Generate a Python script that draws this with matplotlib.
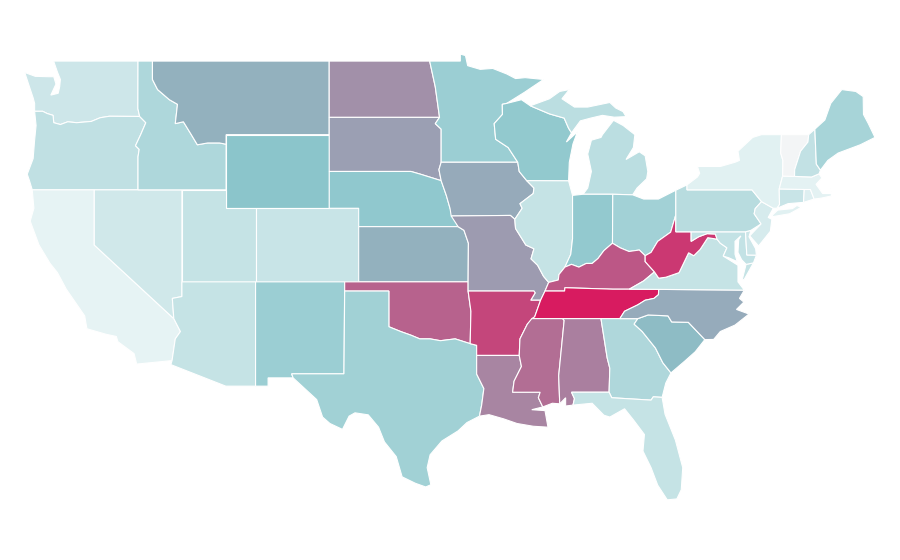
import matplotlib
matplotlib.use('Agg')
import matplotlib.pyplot as plt
from matplotlib.colors import LinearSegmentedColormap, Normalize

# choropleth value per state, 0-1 scale
state_values = {
    'WA': .129, 'OR': .182, 'CA': .028, 'NV': .121, 'ID': .254, 'MT': .47, 'WY': .396,
    'UT': .161, 'CO': .149, 'AZ': .161, 'NM': .331, 'ND': .587, 'SD': .534, 'NE': .376,
    'KS': .47, 'OK': .749, 'TX': .307, 'MN': .331, 'IA': .495, 'MO': .548, 'AR': .845,
    'LA': .626, 'WI': .368, 'IL': .161, 'MI': .202, 'IN': .364, 'OH': .303, 'KY': .788,
    'TN': 1.0, 'MS': .707, 'AL': .647, 'GA': .25, 'FL': .161, 'SC': .432, 'NC': .492,
    'VA': .161, 'WV': .898, 'MD': .17, 'DE': .13, 'PA': .218, 'NJ': .097, 'NY': .048,
    'CT': .149, 'RI': .06, 'MA': .036, 'VT': 0, 'NH': .174, 'ME': .283,
}

# state outlines, lon/lat
outlines = {
    'WA': [[(-122.76,49),(-117.03,49),(-117.04,46.42),(-116.92,45.99),(-118.98,46.0),(-119.6,45.92),(-120.2,45.72),(-121.2,45.65),(-121.8,45.7),(-122.3,45.55),(-122.75,45.65),(-122.8,46.05),(-123.2,46.15),(-123.5,46.27),(-124.05,46.27),(-124.05,46.7),(-124.15,47.0),(-124.4,47.6),(-124.72,48.38),(-124.0,48.17),(-123.1,48.15),(-122.75,48.15),(-122.6,47.75),(-122.95,47.15),(-122.45,47.25),(-122.35,47.6),(-122.3,48.0),(-122.5,48.4)]],
    'OR': [[(-124.05,46.27),(-123.5,46.27),(-123.2,46.15),(-122.8,46.05),(-122.75,45.65),(-122.3,45.55),(-121.8,45.7),(-121.2,45.65),(-120.2,45.72),(-119.6,45.92),(-118.98,46.0),(-116.92,45.99),(-116.5,45.65),(-116.85,45.0),(-117.2,44.4),(-116.95,44.2),(-117.03,43.8),(-117.03,42),(-124.21,42),(-124.4,42.5),(-124.55,42.85),(-124.15,43.7),(-124.05,44.7),(-123.95,45.5)]],
    'CA': [[(-124.21,42),(-120,42),(-120,39),(-114.6,35),(-114.15,34.3),(-114.5,33.9),(-114.72,32.72),(-117.12,32.53),(-117.3,33.1),(-118.4,33.75),(-118.5,34.03),(-119.2,34.15),(-120.5,34.45),(-120.65,35.15),(-121.9,36.6),(-122.5,37.5),(-123.0,38.0),(-123.75,39.0),(-124.35,40.3),(-124.1,41.0)]],
    'NV': [[(-120,42),(-114.05,42),(-114.05,36.2),(-114.7,36.1),(-114.6,35),(-120,39)]],
    'ID': [[(-117.03,49),(-116.05,49),(-116.05,48),(-115.7,47.45),(-114.9,46.9),(-114.35,46.65),(-114.5,45.6),(-113.95,45.7),(-113.45,45.05),(-113.0,44.45),(-112.3,44.55),(-111.5,44.55),(-111.05,44.48),(-111.05,42),(-117.03,42),(-117.03,43.8),(-116.95,44.2),(-117.2,44.4),(-116.85,45.0),(-116.5,45.65),(-116.92,45.99),(-117.04,46.42)]],
    'MT': [[(-116.05,49),(-104.05,49),(-104.05,45),(-111.05,45),(-111.05,44.48),(-111.5,44.55),(-112.3,44.55),(-113.0,44.45),(-113.45,45.05),(-113.95,45.7),(-114.5,45.6),(-114.35,46.65),(-114.9,46.9),(-115.7,47.45),(-116.05,48)]],
    'WY': [[(-111.05,45),(-104.05,45),(-104.05,41),(-111.05,41)]],
    'UT': [[(-111.05,42),(-111.05,41),(-109.05,41),(-109.05,37),(-114.05,37),(-114.05,42)]],
    'CO': [[(-109.05,41),(-102.05,41),(-102.05,37),(-109.05,37)]],
    'AZ': [[(-114.05,37),(-109.05,37),(-109.05,31.33),(-111.07,31.33),(-114.8,32.5),(-114.72,32.72),(-114.5,33.9),(-114.15,34.3),(-114.6,35),(-114.7,36.1),(-114.05,36.2)]],
    'NM': [[(-109.05,37),(-103.0,37),(-103.05,32),(-106.6,32),(-106.5,31.78),(-108.2,31.78),(-108.2,31.33),(-109.05,31.33)]],
    'ND': [[(-104.05,49),(-97.23,49),(-96.85,47.6),(-96.56,45.94),(-104.05,45.94)]],
    'SD': [[(-104.05,45.94),(-96.56,45.94),(-96.85,45.6),(-96.45,45.3),(-96.45,43.5),(-96.6,43.1),(-96.45,42.5),(-97.85,42.85),(-98.5,43.0),(-104.05,43)]],
    'NE': [[(-104.05,43),(-98.5,43),(-97.85,42.85),(-96.45,42.5),(-96.1,41.7),(-95.85,41.0),(-95.3,40),(-102.05,40),(-102.05,41),(-104.05,41)]],
    'KS': [[(-102.05,40),(-95.3,40),(-94.9,39.8),(-94.6,39.1),(-94.62,37),(-102.05,37)]],
    'OK': [[(-103,37),(-94.62,37),(-94.62,36.5),(-94.43,35.4),(-94.48,33.64),(-95.5,33.9),(-96.5,33.8),(-97.2,33.9),(-97.9,33.9),(-98.5,34.1),(-99.2,34.3),(-100,34.56),(-100,36.5),(-103,36.5)]],
    'TX': [[(-103.0,36.5),(-100,36.5),(-100,34.56),(-99.2,34.3),(-98.5,34.1),(-97.9,33.9),(-97.2,33.9),(-96.5,33.8),(-95.5,33.9),(-94.48,33.64),(-94.04,33.55),(-94.04,31.99),(-93.55,31.2),(-93.7,30.3),(-93.85,29.7),(-94.7,29.35),(-95.3,28.9),(-96.4,28.35),(-97.2,27.6),(-97.4,26.9),(-97.15,25.97),(-97.5,25.85),(-98.2,26.05),(-99.1,26.4),(-99.5,27.5),(-100.3,28.3),(-100.7,29.1),(-101.4,29.77),(-102.3,29.88),(-102.7,29.7),(-103.15,28.98),(-104.0,29.3),(-104.5,29.65),(-104.9,30.6),(-106.5,31.78),(-106.6,32),(-103.05,32)]],
    'MN': [[(-97.23,49),(-95.15,49),(-95.15,49.38),(-94.8,49.3),(-94.65,48.75),(-93.8,48.55),(-92.95,48.6),(-92.0,48.3),(-91.4,48.05),(-90.75,48.1),(-89.5,48.0),(-90.8,47.3),(-92.0,46.7),(-92.3,46.65),(-92.29,46.1),(-92.85,45.6),(-92.75,44.75),(-91.9,44.3),(-91.25,43.5),(-96.45,43.5),(-96.45,45.3),(-96.85,45.6),(-96.56,45.94),(-96.85,47.6)]],
    'IA': [[(-96.45,43.5),(-91.25,43.5),(-91.15,43.0),(-90.64,42.5),(-90.15,42.1),(-90.2,41.8),(-91.1,41.25),(-90.95,41.0),(-91.45,40.4),(-91.75,40.61),(-95.77,40.58),(-95.85,41.0),(-96.1,41.7),(-96.45,42.5),(-96.6,43.1)]],
    'MO': [[(-95.77,40.58),(-91.75,40.61),(-91.45,40.4),(-91.4,39.9),(-90.7,39.0),(-90.15,38.8),(-90.35,38.25),(-89.9,37.9),(-89.5,37.3),(-89.15,36.97),(-89.4,36.5),(-89.7,36.0),(-90.37,36.0),(-90.07,36.4),(-90.15,36.5),(-94.62,36.5),(-94.62,37),(-94.6,39.1),(-94.9,39.8),(-95.3,40)]],
    'AR': [[(-94.62,36.5),(-90.15,36.5),(-90.07,36.4),(-90.37,36),(-89.7,36),(-90.1,35.1),(-90.6,34.7),(-91.1,33.9),(-91.15,33.0),(-94.04,33),(-94.04,33.55),(-94.48,33.64),(-94.43,35.4)]],
    'LA': [[(-94.04,33),(-91.15,33),(-91.0,32.4),(-91.5,31.6),(-91.6,31.0),(-89.73,31),(-89.85,30.7),(-89.55,30.2),(-90.3,30.05),(-89.4,30.0),(-89.2,29.1),(-90.2,29.15),(-91.3,29.3),(-92.2,29.55),(-93.2,29.78),(-93.85,29.7),(-93.7,30.3),(-93.55,31.2),(-94.04,31.99)]],
    'WI': [[(-92.0,46.7),(-91.0,46.9),(-90.4,46.57),(-89.1,46.13),(-88.1,45.9),(-87.8,45.35),(-87.6,45.1),(-87.95,44.6),(-87.2,45.15),(-87.5,44.5),(-87.75,43.5),(-87.8,42.49),(-90.64,42.5),(-91.15,43.0),(-91.25,43.5),(-91.9,44.3),(-92.75,44.75),(-92.85,45.6),(-92.29,46.1),(-92.3,46.65)]],
    'IL': [[(-90.64,42.5),(-87.8,42.49),(-87.53,41.7),(-87.53,39.35),(-87.65,38.5),(-88.05,37.8),(-88.45,37.4),(-88.5,37.1),(-89.15,36.97),(-89.5,37.3),(-89.9,37.9),(-90.35,38.25),(-90.15,38.8),(-90.7,39.0),(-91.4,39.9),(-91.45,40.4),(-90.95,41.0),(-91.1,41.25),(-90.2,41.8),(-90.15,42.1)]],
    'MI': [[(-90.4,46.57),(-89.1,46.95),(-88.4,47.35),(-87.75,47.45),(-88.25,46.95),(-87.4,46.5),(-86.5,46.5),(-85.0,46.75),(-84.6,46.45),(-84.1,46.25),(-83.9,45.98),(-84.7,45.95),(-85.5,46.05),(-86.3,45.9),(-87.0,45.75),(-87.6,45.1),(-87.8,45.35),(-88.1,45.9),(-89.1,46.13)],
           [(-84.75,45.78),(-85.5,45.0),(-85.6,44.85),(-86.25,44.7),(-86.5,43.95),(-86.25,43.0),(-86.5,42.1),(-86.82,41.76),(-84.8,41.76),(-83.45,41.73),(-83.15,42.1),(-82.5,42.6),(-82.42,43.0),(-82.6,43.85),(-83.0,44.07),(-83.9,43.65),(-83.4,44.3),(-83.3,45.0),(-84.1,45.5)]],
    'IN': [[(-87.53,41.7),(-86.82,41.76),(-84.8,41.76),(-84.82,39.1),(-85.4,38.7),(-85.8,38.27),(-86.2,38.0),(-86.6,38.0),(-87.1,37.8),(-87.6,37.95),(-88.05,37.8),(-87.65,38.5),(-87.53,39.35)]],
    'OH': [[(-84.8,41.76),(-83.45,41.73),(-82.7,41.5),(-81.7,41.5),(-80.52,41.98),(-80.52,40.64),(-80.87,39.7),(-81.75,39.2),(-82.2,38.6),(-82.6,38.42),(-83.0,38.73),(-83.7,38.65),(-84.3,38.85),(-84.82,39.1)]],
    'KY': [[(-89.4,36.5),(-89.15,36.97),(-88.5,37.1),(-88.45,37.4),(-88.05,37.8),(-87.6,37.95),(-87.1,37.8),(-86.6,38.0),(-86.2,38.0),(-85.8,38.27),(-85.4,38.7),(-84.82,39.1),(-84.3,38.85),(-83.7,38.65),(-83.0,38.73),(-82.6,38.42),(-82.6,38.1),(-81.97,37.54),(-82.7,37.05),(-83.68,36.6),(-84.8,36.6),(-88.05,36.68),(-88.07,36.5)]],
    'TN': [[(-89.7,36),(-89.4,36.5),(-88.07,36.5),(-88.05,36.68),(-84.8,36.6),(-83.68,36.6),(-81.68,36.59),(-81.7,36.3),(-82.0,36.1),(-82.6,36.0),(-83.1,35.75),(-84.0,35.4),(-84.32,35),(-90.3,35),(-90.1,35.1)]],
    'MS': [[(-90.3,35),(-88.2,35),(-88.1,34.9),(-88.47,31.9),(-88.4,30.37),(-88.9,30.4),(-89.55,30.2),(-89.85,30.7),(-89.73,31),(-91.6,31),(-91.5,31.6),(-91.0,32.4),(-91.15,33),(-91.1,33.9),(-90.6,34.7)]],
    'AL': [[(-88.2,35),(-85.6,35),(-85.18,32.87),(-85.0,32.3),(-85.05,31.0),(-87.6,31),(-87.4,30.65),(-87.5,30.3),(-88.0,30.25),(-88.0,30.7),(-88.4,30.37),(-88.47,31.9),(-88.1,34.9)]],
    'GA': [[(-85.6,35),(-83.1,35),(-83.35,34.7),(-82.8,34.3),(-81.9,33.4),(-81.4,32.6),(-80.85,32.05),(-81.2,31.5),(-81.45,30.72),(-82.05,30.75),(-82.2,30.57),(-84.87,30.7),(-85.05,31.0),(-85.0,32.3),(-85.18,32.87)]],
    'FL': [[(-87.6,31),(-85.05,31),(-84.87,30.7),(-82.2,30.57),(-82.05,30.75),(-81.45,30.72),(-81.25,29.8),(-80.55,28.4),(-80.05,26.9),(-80.15,25.7),(-80.45,25.2),(-81.1,25.15),(-81.75,25.95),(-82.2,26.9),(-82.75,27.8),(-82.65,28.7),(-83.4,29.5),(-84.0,30.1),(-85.0,29.65),(-85.4,29.75),(-86.2,30.4),(-87.5,30.3),(-87.4,30.65)]],
    'SC': [[(-83.35,34.7),(-83.1,35),(-82.4,35.2),(-81.05,35.15),(-80.8,34.82),(-79.67,34.8),(-78.55,33.86),(-79.2,33.2),(-79.9,32.7),(-80.85,32.05),(-81.4,32.6),(-81.9,33.4),(-82.8,34.3)]],
    'NC': [[(-81.68,36.59),(-75.87,36.55),(-76.2,36.1),(-75.9,35.9),(-76.4,35.5),(-75.55,35.25),(-76.5,34.65),(-77.5,34.3),(-77.95,33.87),(-78.55,33.86),(-79.67,34.8),(-80.8,34.82),(-81.05,35.15),(-82.4,35.2),(-83.1,35),(-84.32,35),(-84.0,35.4),(-83.1,35.75),(-82.6,36.0),(-82.0,36.1),(-81.7,36.3)]],
    'VA': [[(-83.68,36.6),(-82.7,37.05),(-81.97,37.54),(-81.68,37.2),(-81.2,37.25),(-80.3,37.5),(-79.65,38.58),(-79.3,38.42),(-78.87,38.76),(-78.35,39.4),(-77.72,39.32),(-77.5,39.1),(-77.05,38.85),(-77.3,38.4),(-76.3,37.9),(-76.3,37.0),(-75.87,36.55),(-81.68,36.59)],
           [(-76.0,37.15),(-75.75,37.95),(-75.25,38.03),(-75.9,37.1)]],
    'WV': [[(-82.6,38.42),(-82.2,38.6),(-81.75,39.2),(-80.87,39.7),(-80.52,40.64),(-80.52,39.72),(-79.48,39.72),(-79.48,39.2),(-78.97,39.45),(-78.4,39.62),(-77.83,39.6),(-77.72,39.32),(-78.35,39.4),(-78.87,38.76),(-79.3,38.42),(-79.65,38.58),(-80.3,37.5),(-81.2,37.25),(-81.68,37.2),(-81.97,37.54),(-82.6,38.1)]],
    'MD': [[(-79.48,39.72),(-75.79,39.72),(-75.7,38.46),(-75.05,38.45),(-75.25,38.03),(-75.75,37.95),(-76.05,38.2),(-76.3,38.6),(-76.25,39.3),(-76.1,39.5),(-76.5,39.2),(-76.5,38.5),(-76.35,38.1),(-76.9,38.3),(-77.3,38.4),(-77.05,38.85),(-77.5,39.1),(-77.72,39.32),(-77.83,39.6),(-78.4,39.62),(-78.97,39.45),(-79.48,39.2)]],
    'DE': [[(-75.79,39.72),(-75.42,39.8),(-75.55,39.45),(-75.1,38.8),(-75.05,38.45),(-75.7,38.46)]],
    'PA': [[(-80.52,41.98),(-79.76,42.27),(-79.76,42),(-75.35,42),(-74.7,41.36),(-75.13,40.98),(-75.2,40.7),(-74.73,40.15),(-75.42,39.8),(-75.79,39.72),(-80.52,39.72)]],
    'NJ': [[(-74.7,41.36),(-73.9,41.0),(-74.25,40.5),(-74.0,40.4),(-74.1,39.75),(-74.9,38.95),(-75.5,39.5),(-74.73,40.15),(-75.2,40.7),(-75.13,40.98)]],
    'NY': [[(-79.76,42.27),(-79.05,42.7),(-78.9,42.9),(-79.05,43.27),(-77.5,43.27),(-76.5,43.5),(-76.2,43.6),(-76.3,44.1),(-75.3,44.85),(-74.7,45),(-73.35,45),(-73.4,44.0),(-73.25,43.6),(-73.27,42.75),(-73.5,42.05),(-73.48,41.2),(-73.65,41.0),(-73.9,41.0),(-74.7,41.36),(-75.35,42),(-79.76,42)],
           [(-74.0,40.6),(-73.6,40.9),(-72.6,40.98),(-72.3,41.15),(-72.0,41.05),(-72.8,40.7),(-73.9,40.55)]],
    'CT': [[(-73.5,42.05),(-71.8,42.02),(-71.85,41.32),(-72.9,41.25),(-73.65,41.0),(-73.48,41.2)]],
    'RI': [[(-71.8,42.02),(-71.38,42.02),(-71.13,41.5),(-71.85,41.32)]],
    'MA': [[(-73.5,42.05),(-73.27,42.75),(-71.3,42.7),(-70.8,42.87),(-70.6,42.65),(-71.0,42.3),(-70.55,41.8),(-70.0,41.8),(-70.0,42.05),(-69.95,41.67),(-70.65,41.55),(-71.13,41.5),(-71.38,42.02),(-71.8,42.02)]],
    'VT': [[(-73.35,45),(-71.5,45),(-71.55,44.6),(-72.05,44.1),(-72.45,43.1),(-72.46,42.73),(-73.27,42.75),(-73.25,43.6),(-73.4,44.0)]],
    'NH': [[(-71.5,45),(-71.08,45.3),(-70.98,43.4),(-70.7,43.07),(-70.8,42.87),(-71.3,42.7),(-72.46,42.73),(-72.45,43.1),(-72.05,44.1),(-71.55,44.6)]],
    'ME': [[(-71.08,45.3),(-70.4,45.8),(-70.0,46.7),(-69.25,47.45),(-68.3,47.35),(-67.8,47.07),(-67.78,46.1),(-67.45,45.6),(-67.0,44.85),(-68.0,44.45),(-68.5,44.3),(-69.5,44.0),(-70.2,43.6),(-70.7,43.07),(-70.98,43.4)]],
}

cmap = LinearSegmentedColormap.from_list('teal_pink', [(0, '#f3f5f6'), (.02, '#e8f4f5'), (.4, '#8ac5cb'), (1, '#d81b60')])
norm = Normalize(0, 1)

fig = plt.figure(figsize=(9, 5.6), dpi=100)
ax = fig.add_axes([0, 0, 1, 1])
for state, parts in outlines.items():
    for part in parts:
        lons, lats = zip(*part)
        ax.fill(lons, lats, facecolor=cmap(norm(state_values[state])), edgecolor='white', linewidth=0.8)
ax.set_xlim(-126.4, -65.3)
ax.set_ylim(21.88, 52.32)
ax.axis('off')
fig.savefig('out.png', dpi=100)
